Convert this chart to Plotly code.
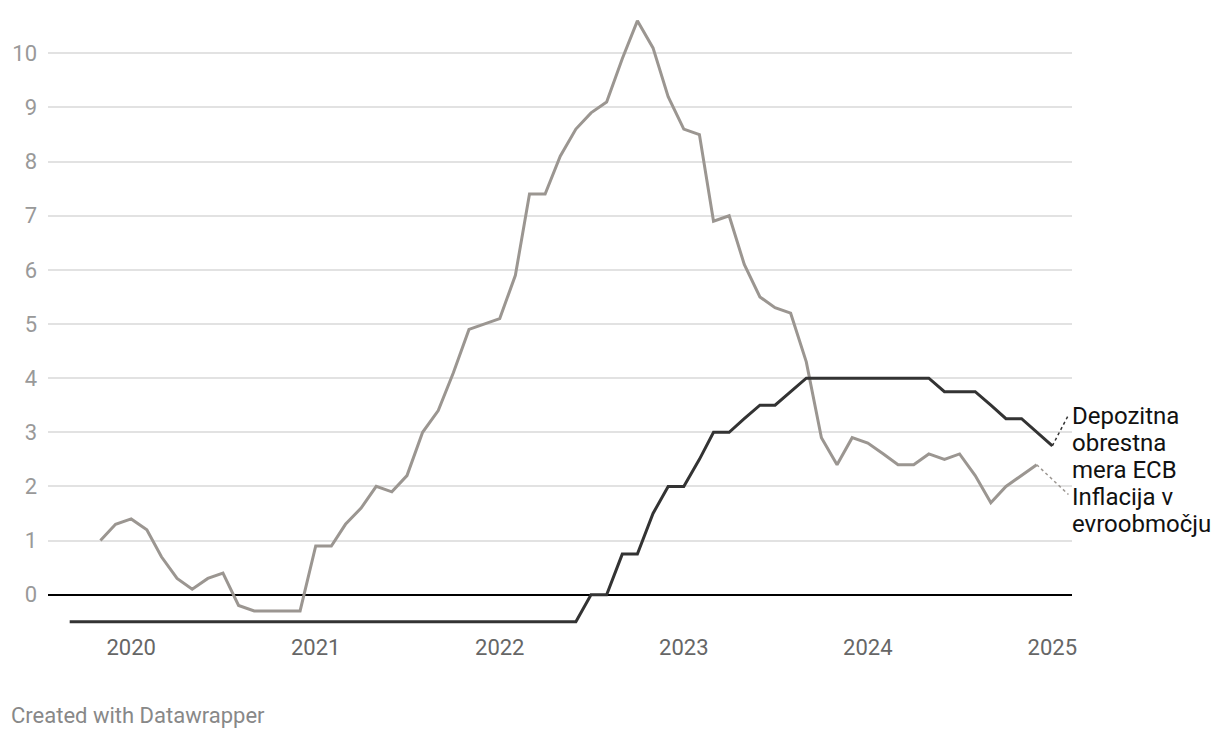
import plotly.graph_objects as go
import pandas as pd

# Inflation in the euro area (monthly, Nov 2019 - Dec 2024)
infl_start = "2019-11-01"
inflation = [1.0, 1.3,
             1.4, 1.2, 0.7, 0.3, 0.1, 0.3, 0.4, -0.2, -0.3, -0.3, -0.3, -0.3,
             0.9, 0.9, 1.3, 1.6, 2.0, 1.9, 2.2, 3.0, 3.4, 4.1, 4.9, 5.0,
             5.1, 5.9, 7.4, 7.4, 8.1, 8.6, 8.9, 9.1, 9.9, 10.6, 10.1, 9.2,
             8.6, 8.5, 6.9, 7.0, 6.1, 5.5, 5.3, 5.2, 4.3, 2.9, 2.4, 2.9,
             2.8, 2.6, 2.4, 2.4, 2.6, 2.5, 2.6, 2.2, 1.7, 2.0, 2.2, 2.4]

# ECB deposit facility rate (monthly, Sep 2019 - Jan 2025)
rate_start = "2019-09-01"
deposit = [-0.5, -0.5, -0.5, -0.5,
           -0.5, -0.5, -0.5, -0.5, -0.5, -0.5, -0.5, -0.5, -0.5, -0.5, -0.5, -0.5,
           -0.5, -0.5, -0.5, -0.5, -0.5, -0.5, -0.5, -0.5, -0.5, -0.5, -0.5, -0.5,
           -0.5, -0.5, -0.5, -0.5, -0.5, -0.5, 0.0, 0.0, 0.75, 0.75, 1.5, 2.0,
           2.0, 2.5, 3.0, 3.0, 3.25, 3.5, 3.5, 3.75, 4.0, 4.0, 4.0, 4.0,
           4.0, 4.0, 4.0, 4.0, 4.0, 3.75, 3.75, 3.75, 3.5, 3.25, 3.25, 3.0,
           2.75]

y_ticks = [0, 1, 2, 3, 4, 5, 6, 7, 8, 9, 10]
x_ticks = ["2020-01-01", "2021-01-01", "2022-01-01", "2023-01-01", "2024-01-01", "2025-01-01"]
x_labels = ["2020", "2021", "2022", "2023", "2024", "2025"]

label_rate_lines = ["Depozitna", "obrestna", "mera ECB"]
label_infl_lines = ["Inflacija v", "evroobmočju"]
footer = "Created with Datawrapper"

infl_dates = pd.date_range(infl_start, periods=len(inflation), freq="MS")
rate_dates = pd.date_range(rate_start, periods=len(deposit), freq="MS")

FONT = "Roboto, Arial, sans-serif"
GRAY = "#9b9691"
DARK = "#333333"

# page body has an 8px margin; work in window pixels and subtract it
OFF = 8
W, H = 1220 - OFF, 738 - OFF
ML, MT = 48 - OFF, 10 - OFF
PW, PH = 1072 - 48, 638 - 10
MR, MB = W - ML - PW, H - MT - PH
Y0, Y1 = -0.8, 10.8

fig = go.Figure()
fig.add_trace(go.Scatter(x=infl_dates, y=inflation, mode="lines",
                         line=dict(color=GRAY, width=3), hoverinfo="skip"))
fig.add_trace(go.Scatter(x=rate_dates, y=deposit, mode="lines",
                         line=dict(color=DARK, width=3), hoverinfo="skip"))

# dotted connectors from line ends to labels
conn_x = pd.Timestamp("2025-02-02")
fig.add_trace(go.Scatter(x=[rate_dates[-1], conn_x], y=[deposit[-1], 3.32], mode="lines",
                         line=dict(color=DARK, width=1.5, dash="dot"), hoverinfo="skip"))
fig.add_trace(go.Scatter(x=[infl_dates[-1], conn_x], y=[inflation[-1], 1.85], mode="lines",
                         line=dict(color=GRAY, width=1.5, dash="dot"), hoverinfo="skip"))

def px_to_y(py):
    # py is a window pixel
    return Y1 - (py - OFF - MT) / PH * (Y1 - Y0)

LINE_H = 27
for i, t in enumerate(label_rate_lines):
    fig.add_annotation(x=1.0, xref="paper", y=px_to_y(416 + i * LINE_H), yref="y", text=t,
                       showarrow=False, xanchor="left", yanchor="middle", align="left",
                       xshift=-2, font=dict(family=FONT, size=24, color="#111111"))
for i, t in enumerate(label_infl_lines):
    fig.add_annotation(x=1.0, xref="paper", y=px_to_y(497 + i * LINE_H), yref="y", text=t,
                       showarrow=False, xanchor="left", yanchor="middle", align="left",
                       xshift=-2, font=dict(family=FONT, size=24, color="#111111"))

fig.add_annotation(x=-(ML - (10 - OFF)) / PW, xref="paper",
                   y=-(715 - OFF - (MT + PH)) / PH, yref="paper",
                   text=footer, showarrow=False, xanchor="left", yanchor="middle",
                   xshift=-1, font=dict(family=FONT, size=22, color="#888888"))

fig.update_layout(
    width=W, height=H,
    margin=dict(l=ML, r=MR, t=MT, b=MB, autoexpand=False),
    paper_bgcolor="white", plot_bgcolor="white",
    showlegend=False,
    font=dict(family=FONT),
    xaxis=dict(range=["2019-07-20", "2025-02-09"], tickvals=x_ticks, ticktext=x_labels,
               showgrid=False, zeroline=False, showline=False, ticks="", automargin=False,
               ticklabelstandoff=-6,
               tickfont=dict(family=FONT, size=22, color="#666666")),
    yaxis=dict(range=[Y0, Y1], tickvals=y_ticks, showgrid=True, automargin=False,
               gridcolor="#e2e2e2", gridwidth=1.5, zeroline=True, zerolinecolor="#000000",
               zerolinewidth=1.5, ticks="", ticklabelstandoff=10,
               tickfont=dict(family=FONT, size=22, color="#999999")),
)

fig.write_html("out.html")
